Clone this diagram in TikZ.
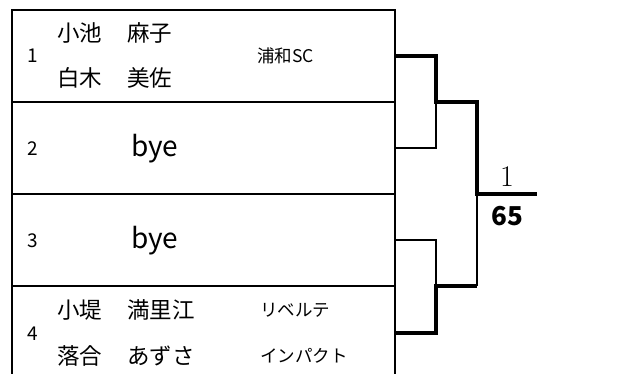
\documentclass[tikz,border=0pt]{standalone}
\usepackage{fontspec}
\newfontfamily\jp{Noto Sans CJK JP}
\tikzset{
  boxline/.style={line width=2pt, black},
  thinline/.style={line width=2pt, black},
  thickline/.style={line width=4.5pt, black},
  numtxt/.style={inner sep=0pt, anchor=center, font=\jp\fontsize{19}{19}\selectfont},
  playertxt/.style={inner sep=0pt, anchor=west, font=\jp\fontsize{22.5}{22.5}\selectfont},
  clubtxt/.style={inner sep=0pt, anchor=west, font=\jp\fontsize{17.5}{17.5}\selectfont},
  byetxt/.style={inner sep=0pt, anchor=base west, font=\jp\fontsize{28}{28}\selectfont},
}
\begin{document}
\begin{tikzpicture}[x=1pt, y=-1pt]
\useasboundingbox (0,0) rectangle (630,374);
\clip (0,0) rectangle (630,374);
% table frame
\coordinate (tl) at (12,10);
\coordinate (tr) at (395,10);
\coordinate (bl) at (12,380);
\coordinate (br) at (395,380);
\coordinate (d1l) at (12,102); \coordinate (d1r) at (395,102);
\coordinate (d2l) at (12,194); \coordinate (d2r) at (395,194);
\coordinate (d3l) at (12,286); \coordinate (d3r) at (395,286);
\draw[boxline] (bl) -- (tl) -- (tr) -- (br);
\draw[boxline] (d1l) -- (d1r);
\draw[boxline] (d2l) -- (d2r);
\draw[boxline] (d3l) -- (d3r);
% row 1
\node[numtxt] (n1) at (33,56) {1};
\node[playertxt] (p1a) at (57,33) {小池};
\node[playertxt] (p1b) at (127,33) {麻子};
\node[playertxt] (p1c) at (57,78) {白木};
\node[playertxt] (p1d) at (127,78) {美佐};
\node[clubtxt] (c1) at (257,56) {浦和SC};
% row 2
\node[numtxt] (n2) at (33,149) {2};
\node[byetxt] (b2) at (131,157) {bye};
% row 3
\node[numtxt] (n3) at (33,241) {3};
\node[byetxt] (b3) at (131,249) {bye};
% row 4
\node[numtxt] (n4) at (33,334) {4};
\node[playertxt] (p4a) at (57,310) {小堤};
\node[playertxt] (p4b) at (127,310) {満里江};
\node[playertxt] (p4c) at (57,356) {落合};
\node[playertxt] (p4d) at (127,356) {あずさ};
\node[clubtxt] (c4a) at (260,310) {リベルテ};
\node[clubtxt] (c4b) at (260,356) {インパクト};
% bracket coordinates
\coordinate (e1) at (395,56);
\coordinate (e2) at (395,148);
\coordinate (e3) at (395,240);
\coordinate (e4) at (395,333);
\coordinate (a1) at (436,56);
\coordinate (a2) at (436,148);
\coordinate (am) at (436,102);
\coordinate (a3) at (436,240);
\coordinate (a4) at (436,333);
\coordinate (an) at (436,286);
\coordinate (b1) at (477,102);
\coordinate (b2c) at (477,286);
\coordinate (bm) at (477,194);
\coordinate (fin) at (537,194);
% thin lines
\draw[thinline] (e2) -- (a2) -- (am);
\draw[thinline] (e3) -- (a3) -- (an);
\draw[thinline] (bm) -- (b2c);
% thick (winner) lines
\draw[thickline, line join=miter] (e1) -- (a1) -- (am) -- (b1) -- (bm) -- (fin);
\draw[thickline, line join=miter] (e4) -- (a4) -- (an) -- (b2c);
% result labels
\node[inner sep=0pt, anchor=base, font=\fontsize{30}{30}\selectfont] (r1) at (507,187) {1};
\node[inner sep=0pt, anchor=base, font=\jp\bfseries\fontsize{26}{26}\selectfont] (r65) at (507,226) {65};
\end{tikzpicture}
\end{document}
